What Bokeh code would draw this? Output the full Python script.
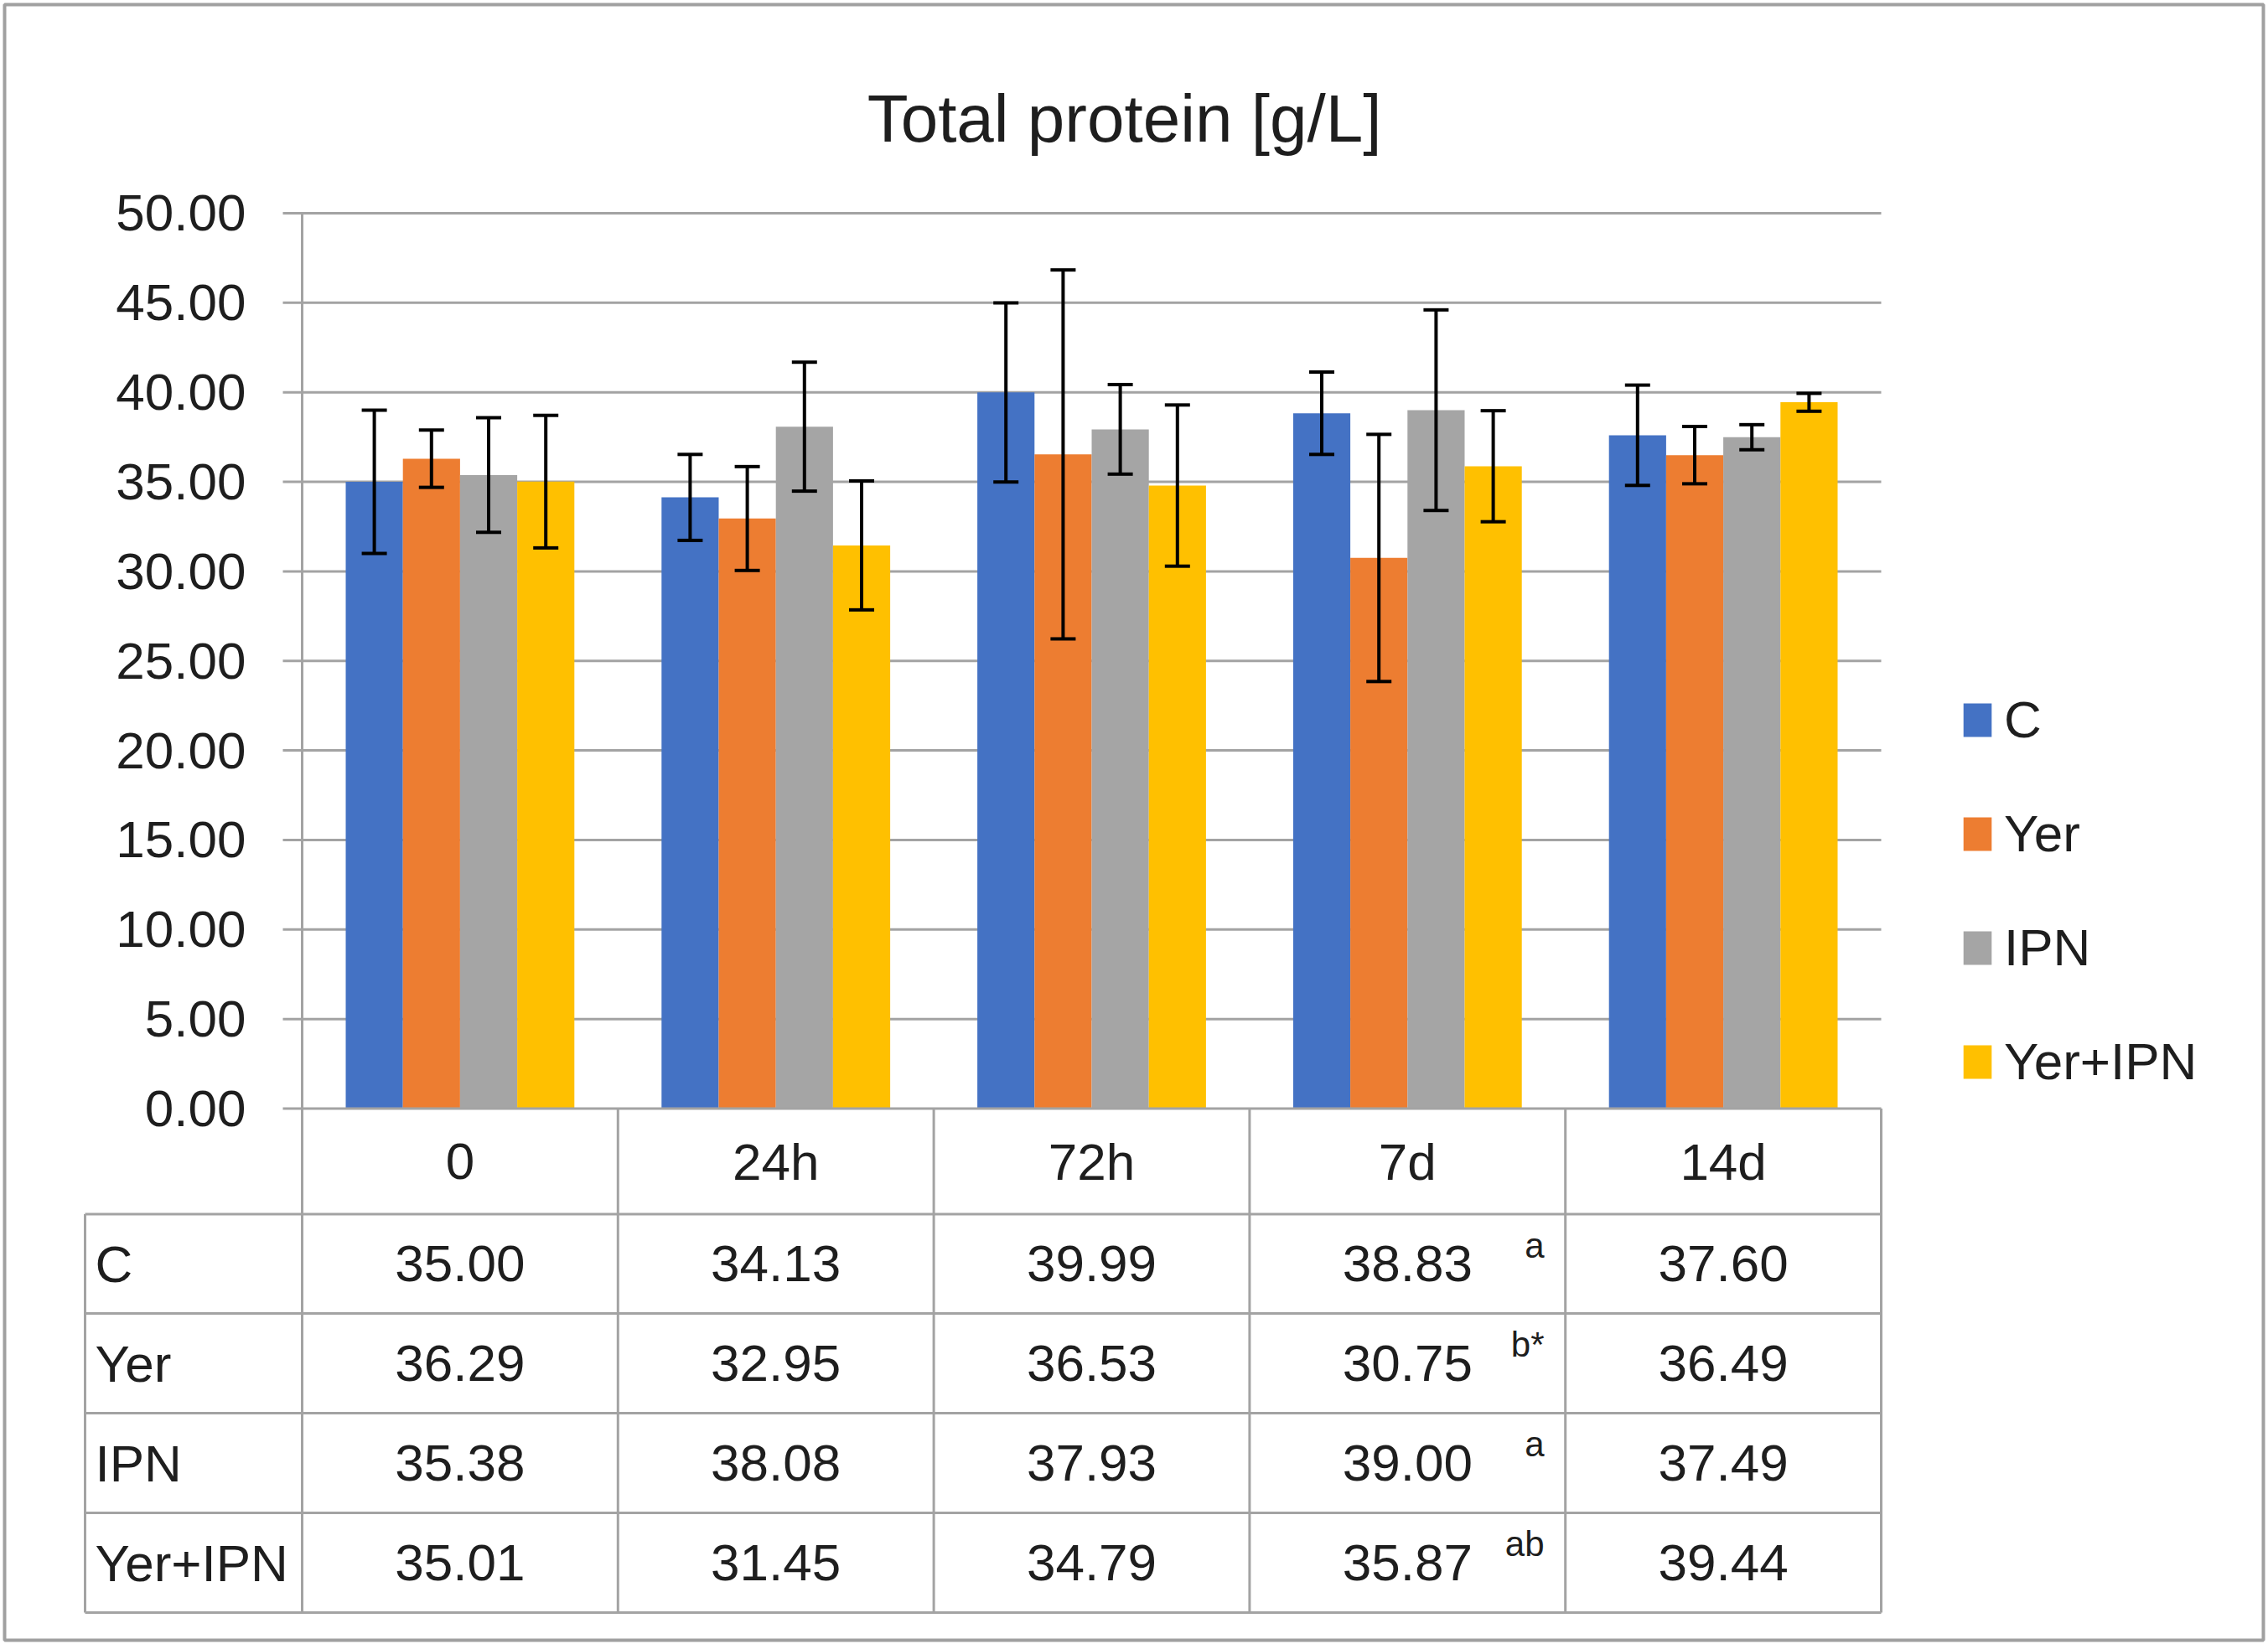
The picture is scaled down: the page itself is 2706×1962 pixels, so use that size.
from bokeh.plotting import figure
from bokeh.models import Range1d, ColumnDataSource, Whisker, TeeHead, Legend, LegendItem
from bokeh.core.properties import value
from bokeh.embed import file_html
from bokeh.resources import INLINE

# ---------------- data ----------------
categories = ["0", "24h", "72h", "7d", "14d"]
series = ["C", "Yer", "IPN", "Yer+IPN"]
colors = ["#4472C4", "#ED7D31", "#A5A5A5", "#FFC000"]

c_vals = [35.00, 34.13, 39.99, 38.83, 37.60]
yer_vals = [36.29, 32.95, 36.53, 30.75, 36.49]
ipn_vals = [35.38, 38.08, 37.93, 39.00, 37.49]
yeripn_vals = [35.01, 31.45, 34.79, 35.87, 39.44]

c_err = [4.0, 2.4, 5.0, 2.3, 2.8]
yer_err = [1.6, 2.9, 10.3, 6.9, 1.6]
ipn_err = [3.2, 3.6, 2.5, 5.6, 0.7]
yeripn_err = [3.7, 3.6, 4.5, 3.1, 0.5]

c_sup = ["", "", "", "a", ""]
yer_sup = ["", "", "", "b*", ""]
ipn_sup = ["", "", "", "a", ""]
yeripn_sup = ["", "", "", "ab", ""]

y_ticks = [0, 5, 10, 15, 20, 25, 30, 35, 40, 45, 50]
y_tick_labels = ["0.00", "5.00", "10.00", "15.00", "20.00", "25.00",
                 "30.00", "35.00", "40.00", "45.00", "50.00"]
title_text = "Total protein [g/L]"

values = [c_vals, yer_vals, ipn_vals, yeripn_vals]
errors = [c_err, yer_err, ipn_err, yeripn_err]
sups = [c_sup, yer_sup, ipn_sup, yeripn_sup]

# ---------------- layout (picture pixels) ----------------
W, H = 2704, 1960
PX_X0 = 360.0
PX_PER_X = 376.8
PX_Y0 = 1322.6
PX_PER_Y = 21.374


def dx(px):
    return (px - PX_X0) / PX_PER_X


def dy(px):
    return (PX_Y0 - px) / PX_PER_Y


FONT_NAME = "Liberation Sans"
FONT = value(FONT_NAME)
TXT = "#1e1e1e"
GRID = "#a3a3a3"
n = len(categories)

p = figure(width=W, height=H, output_backend="svg", toolbar_location=None,
           x_range=Range1d(dx(0), dx(W)),
           y_range=Range1d(dy(H), dy(0)),
           x_axis_location=None, y_axis_location=None, min_border=0)
p.xgrid.visible = False
p.ygrid.visible = False
p.outline_line_color = None
p.background_fill_color = "white"
p.border_fill_color = "white"

# outer border
p.quad(left=[dx(5)], right=[dx(2700)], top=[dy(5)], bottom=[dy(1957)],
       fill_color=None, line_color="#a0a0a0", line_width=4)

# gridlines
gx0 = dx(337)
p.segment(x0=[gx0] * (len(y_ticks) - 1), x1=[n] * (len(y_ticks) - 1),
          y0=y_ticks[1:], y1=y_ticks[1:], line_color=GRID, line_width=3)

# bars
bw = 0.181
renderers = []
for k, (s, col, vals, errs) in enumerate(zip(series, colors, values, errors)):
    xs = [i + 0.5 + (k - 1.5) * bw for i in range(n)]
    src = ColumnDataSource(dict(x=xs, top=vals,
                                upper=[v + e for v, e in zip(vals, errs)],
                                lower=[v - e for v, e in zip(vals, errs)]))
    r = p.vbar(x="x", top="top", bottom=0, width=bw, source=src,
               fill_color=col, line_color=None)
    renderers.append(r)
    wk = Whisker(source=src, base="x", upper="upper", lower="lower",
                 line_color="#000000", line_width=4, level="overlay",
                 upper_head=TeeHead(size=30, line_color="#000000", line_width=4),
                 lower_head=TeeHead(size=30, line_color="#000000", line_width=4))
    p.add_layout(wk)

# baseline
p.segment(x0=[gx0], x1=[n], y0=[0], y1=[0], line_color=GRID, line_width=3)

# y tick labels
p.text(x=[dx(293)] * len(y_ticks), y=y_ticks, text=y_tick_labels,
       text_font=FONT, text_font_size="62px", text_color=TXT,
       text_align="right", text_baseline="middle")

# table structure
row_edges_px = [1322.6, 1448.5, 1567.0, 1686.0, 1805.0, 1924.0]
row_edges = [dy(v) for v in row_edges_px]
lab_left = dx(101)
hy = row_edges[1:]
p.segment(x0=[lab_left] * len(hy), x1=[n] * len(hy), y0=hy, y1=hy,
          line_color=GRID, line_width=3)
p.segment(x0=[0], x1=[0], y0=[50], y1=[row_edges[-1]], line_color=GRID, line_width=3)
vx = list(range(1, n + 1))
p.segment(x0=vx, x1=vx, y0=[0] * len(vx), y1=[row_edges[-1]] * len(vx),
          line_color=GRID, line_width=3)
p.segment(x0=[lab_left], x1=[lab_left], y0=[row_edges[1]], y1=[row_edges[-1]],
          line_color=GRID, line_width=3)

# header labels
hc = (row_edges[0] + row_edges[1]) / 2
p.text(x=[i + 0.5 for i in range(n)], y=[hc] * n, text=categories,
       text_font=FONT, text_font_size="62px", text_color=TXT,
       text_align="center", text_baseline="middle")

# table rows
for k, (s, vals, sp) in enumerate(zip(series, values, sups)):
    yc = (row_edges[k + 1] + row_edges[k + 2]) / 2
    p.text(x=[dx(113)], y=[yc], text=[s], text_font=FONT, text_font_size="62px",
           text_color=TXT, text_align="left", text_baseline="middle")
    p.text(x=[i + 0.5 for i in range(n)], y=[yc] * n,
           text=["%.2f" % v for v in vals], text_font=FONT, text_font_size="62px",
           text_color=TXT, text_align="center", text_baseline="middle")
    sx = [i + 0.5 + dx(1842) - 3.5 for i in range(n)]
    ysup = dy(row_edges_px[k + 1] + 37)
    p.text(x=sx, y=[ysup] * n, text=sp, text_font=FONT, text_font_size="42px",
           text_color=TXT, text_align="right", text_baseline="alphabetic")

# title
p.text(x=[dx(1341)], y=[dy(141)], text=[title_text], text_font=FONT,
       text_font_size="80px", text_color=TXT, text_align="center",
       text_baseline="alphabetic")

# legend
legend = Legend(items=[LegendItem(label=s, renderers=[r]) for s, r in zip(series, renderers)],
                location=(2338, 658), padding=0, margin=0, spacing=65,
                glyph_width=42, glyph_height=50, label_standoff=11,
                label_text_font=FONT_NAME, label_text_font_size="62px",
                label_text_color=TXT, border_line_color=None,
                background_fill_alpha=0)
p.add_layout(legend)

open("out.html", "w").write(file_html(p, INLINE))
